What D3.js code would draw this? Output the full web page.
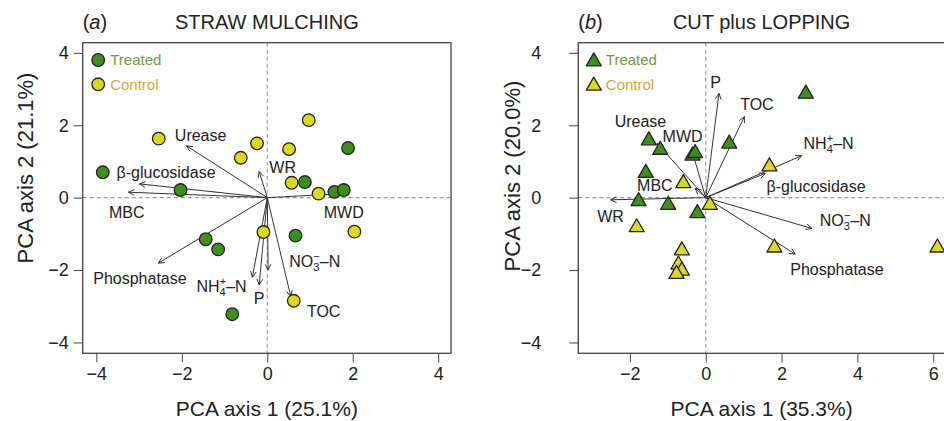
<!DOCTYPE html>
<html>
<head>
<meta charset="utf-8">
<script src="https://cdn.jsdelivr.net/npm/d3@7"></script>
<style>
  html, body { margin: 0; padding: 0; background: #fff; }
  svg { display: block; font-family: "Liberation Sans", Arial, Helvetica, sans-serif; }
</style>
</head>
<body>
<svg id="chart" width="944" height="421"></svg>
<script>
// ---------------- DATA ----------------
const yTickValues = [-4, -2, 0, 2, 4];
const xTickValuesA = [-4, -2, 0, 2, 4];
const xTickValuesB = [-2, 0, 2, 4, 6];

const titleA = "STRAW MULCHING";
const titleB = "CUT plus LOPPING";
const xTitleA = "PCA axis 1 (25.1%)";
const yTitleA = "PCA axis 2 (21.1%)";
const xTitleB = "PCA axis 1 (35.3%)";
const yTitleB = "PCA axis 2 (20.0%)";
const groups = ["Treated", "Control"];

// Panel (a) site scores
const aTreatedX = [-3.85, -2.03, -1.44, -1.15, -0.82, 0.66, 0.88, 1.57, 1.79, 1.89];
const aTreatedY = [0.70, 0.21, -1.15, -1.43, -3.22, -1.05, 0.43, 0.16, 0.21, 1.37];
const aControlX = [-2.54, -0.62, -0.24, 0.51, 0.97, 0.57, 1.20, 2.04, -0.09, 0.62];
const aControlY = [1.63, 1.10, 1.50, 1.34, 2.14, 0.41, 0.11, -0.94, -0.95, -2.85];

// Panel (a) variable loadings (arrow tips) and label anchors
const aVarNames = ["Urease", "β-glucosidase", "MBC", "Phosphatase", "WR", "MWD", "NO3", "NH4", "P", "TOC"];
const aVarX = [-1.89, -2.99, -3.25, -2.55, -0.19, 1.62, 0.02, -0.35, -0.19, 0.55];
const aVarY = [1.43, 0.38, 0.15, -1.81, 0.72, 0.10, -2.00, -2.20, -2.41, -2.73];
const aLabX = [-1.56, -2.37, -3.29, -2.98, 0.36, 1.79, 1.11, -1.07, -0.19, 1.32];
const aLabY = [1.73, 0.70, -0.39, -2.23, 0.85, -0.40, -1.77, -2.46, -2.78, -3.15];

// Panel (b) site scores
const bTreatedX = [2.64, -1.50, -1.20, -0.35, -0.28, 0.62, -1.58, -1.77, -0.99, -0.22];
const bTreatedY = [2.91, 1.62, 1.36, 1.20, 1.27, 1.53, 0.72, -0.06, -0.16, -0.39];
const bControlX = [1.68, -0.59, 0.11, -1.82, 1.81, 6.11, -0.63, -0.72, -0.63, -0.77];
const bControlY = [0.90, 0.44, -0.16, -0.78, -1.34, -1.34, -1.42, -1.81, -1.98, -2.07];

// Panel (b) variable loadings and label anchors
const bVarNames = ["P", "TOC", "NH4", "β-glucosidase", "NO3", "Phosphatase", "WR", "Urease", "MWD", "MBC"];
const bVarX = [0.35, 1.02, 2.53, 1.57, 2.80, 2.36, -2.51, -1.28, -0.34, -0.28];
const bVarY = [2.88, 2.24, 1.16, 0.67, -0.85, -1.56, -0.06, 1.50, 1.22, 0.26];
const bLabX = [0.26, 1.35, 3.24, 2.91, 3.68, 3.46, -2.51, -1.72, -0.61, -1.34];
const bLabY = [3.18, 2.59, 1.50, 0.32, -0.62, -1.98, -0.52, 2.10, 1.70, 0.33];

// ---------------- STYLE ----------------
const greenFill = "#3f8f1c";
const yellowFill = "#dcd91c";
const greenText = "#6e9e42";
const yellowText = "#d6a63a";
const ink = "#222";

const svg = d3.select("#chart");
svg.append("rect").attr("width", 944).attr("height", 421).attr("fill", "#fff");

const plotTop = 42.7, plotBottom = 353.3;

function drawPanel(cfg) {
  const g = svg.append("g");
  const x = d3.scaleLinear().domain(cfg.xDomain).range(cfg.xRange);
  const y = d3.scaleLinear().domain([-4.30, 4.28]).range([plotBottom, plotTop]);

  // zero reference lines
  g.append("line").attr("x1", x(0)).attr("x2", x(0)).attr("y1", plotTop).attr("y2", plotBottom)
    .attr("stroke", "#999").attr("stroke-width", 1.1).attr("stroke-dasharray", "4,3");
  g.append("line").attr("x1", cfg.xRange[0]).attr("x2", cfg.xRange[1]).attr("y1", y(0)).attr("y2", y(0))
    .attr("stroke", "#999").attr("stroke-width", 1.1).attr("stroke-dasharray", "4,3");

  // axes
  const xAxis = d3.axisBottom(x).tickValues(cfg.xTicks).tickSize(9).tickSizeOuter(0).tickPadding(5);
  const yAxis = d3.axisLeft(y).tickValues(yTickValues).tickSize(9).tickSizeOuter(0).tickPadding(cfg.yPad);
  const gx = g.append("g").attr("transform", `translate(0,${plotBottom})`).call(xAxis);
  const gy = g.append("g").attr("transform", `translate(${cfg.xRange[0]},0)`).call(yAxis);
  [gx, gy].forEach(a => {
    a.select(".domain").remove();
    a.selectAll("line").attr("stroke", "#444").attr("stroke-width", 1);
    a.selectAll("text").attr("font-size", 18).attr("fill", ink)
      .attr("font-family", "'Liberation Sans', Arial, sans-serif");
  });

  // frame
  g.append("rect").attr("x", cfg.xRange[0]).attr("y", plotTop)
    .attr("width", cfg.xRange[1] - cfg.xRange[0]).attr("height", plotBottom - plotTop)
    .attr("fill", "none").attr("stroke", "#444").attr("stroke-width", 1.3);

  // arrows
  const arrows = g.append("g").attr("stroke", "#333").attr("stroke-width", 1).attr("fill", "none");
  cfg.varX.forEach((vx, i) => {
    const x0 = x(0), y0 = y(0), x1 = x(vx), y1 = y(cfg.varY[i]);
    arrows.append("line").attr("x1", x0).attr("y1", y0).attr("x2", x1).attr("y2", y1);
    const ang = Math.atan2(y1 - y0, x1 - x0);
    const L = 6.5, spread = 0.45;
    [ang + Math.PI - spread, ang + Math.PI + spread].forEach(a2 => {
      arrows.append("line").attr("x1", x1).attr("y1", y1)
        .attr("x2", x1 + L * Math.cos(a2)).attr("y2", y1 + L * Math.sin(a2));
    });
  });

  // points
  const drawPt = (px, py, fill) => {
    if (cfg.shape === "circle") {
      g.append("circle").attr("cx", px).attr("cy", py).attr("r", 6.3)
        .attr("fill", fill).attr("stroke", ink).attr("stroke-width", 1.3);
    } else {
      const h = 13, w = 15;
      g.append("path")
        .attr("d", `M${px},${py - h * 0.55} L${px + w / 2},${py + h * 0.45} L${px - w / 2},${py + h * 0.45} Z`)
        .attr("fill", fill).attr("stroke", ink).attr("stroke-width", 1.3).attr("stroke-linejoin", "round");
    }
  };
  cfg.controlX.forEach((vx, i) => drawPt(x(vx), y(cfg.controlY[i]), yellowFill));
  cfg.treatedX.forEach((vx, i) => drawPt(x(vx), y(cfg.treatedY[i]), greenFill));

  // labels
  const lab = g.append("g").attr("font-size", 16).attr("fill", ink).attr("text-anchor", "middle");
  cfg.varNames.forEach((nm, i) => {
    const t = lab.append("text").attr("x", x(cfg.labX[i])).attr("y", y(cfg.labY[i])).attr("dy", "0.36em");
    if (nm === "NO3" || nm === "NH4") {
      t.append("tspan").text(nm.slice(0, 2));
      t.append("tspan").attr("font-size", 11).attr("dy", 4).text(nm.slice(2));
      t.append("tspan").attr("font-size", 11).attr("dx", -6).attr("dy", -11).text(nm === "NO3" ? "−" : "+");
      t.append("tspan").attr("dy", 7).text("–N");
    } else {
      t.text(nm);
    }
  });

  // legend
  const lx = cfg.xRange[0] + 15.5, ly = [60, 84.3];
  groups.forEach((gr, i) => {
    drawPt(lx, ly[i], i === 0 ? greenFill : yellowFill);
    g.append("text").attr("x", lx + 12).attr("y", ly[i]).attr("dy", "0.36em")
      .attr("font-size", 15).attr("fill", i === 0 ? greenText : yellowText).text(gr);
  });

  // titles
  const cx = (cfg.xRange[0] + cfg.xRange[1]) / 2;
  const tt = g.append("text").attr("x", cfg.xRange[0]).attr("y", 29).attr("font-size", 20).attr("fill", ink);
  tt.append("tspan").text("(");
  tt.append("tspan").attr("font-style", "italic").text(cfg.letter);
  tt.append("tspan").text(")");
  g.append("text").attr("x", cx).attr("y", 29).attr("text-anchor", "middle")
    .attr("font-size", 20).attr("fill", ink).text(cfg.title);

  g.append("text").attr("x", cx).attr("y", 416).attr("text-anchor", "middle")
    .attr("font-size", 21).attr("fill", ink).text(cfg.xTitle);
  g.append("text").attr("transform", `translate(${cfg.yTitleX},${cfg.yTitleY}) rotate(-90)`)
    .attr("text-anchor", "middle").attr("dy", "0.36em")
    .attr("font-size", 22).attr("fill", ink).text(cfg.yTitle);
}

drawPanel({
  xDomain: [-4.32, 4.30], xRange: [82.7, 451], xTicks: xTickValuesA, yPad: 5,
  shape: "circle", letter: "a", title: titleA, xTitle: xTitleA, yTitle: yTitleA,
  yTitleX: 25, yTitleY: 168,
  treatedX: aTreatedX, treatedY: aTreatedY, controlX: aControlX, controlY: aControlY,
  varNames: aVarNames, varX: aVarX, varY: aVarY, labX: aLabX, labY: aLabY
});
drawPanel({
  xDomain: [-3.36, 6.31], xRange: [578.3, 945], xTicks: xTickValuesB, yPad: 28,
  shape: "triangle", letter: "b", title: titleB, xTitle: xTitleB, yTitle: yTitleB,
  yTitleX: 512, yTitleY: 176,
  treatedX: bTreatedX, treatedY: bTreatedY, controlX: bControlX, controlY: bControlY,
  varNames: bVarNames, varX: bVarX, varY: bVarY, labX: bLabX, labY: bLabY
});
</script>
</body>
</html>
